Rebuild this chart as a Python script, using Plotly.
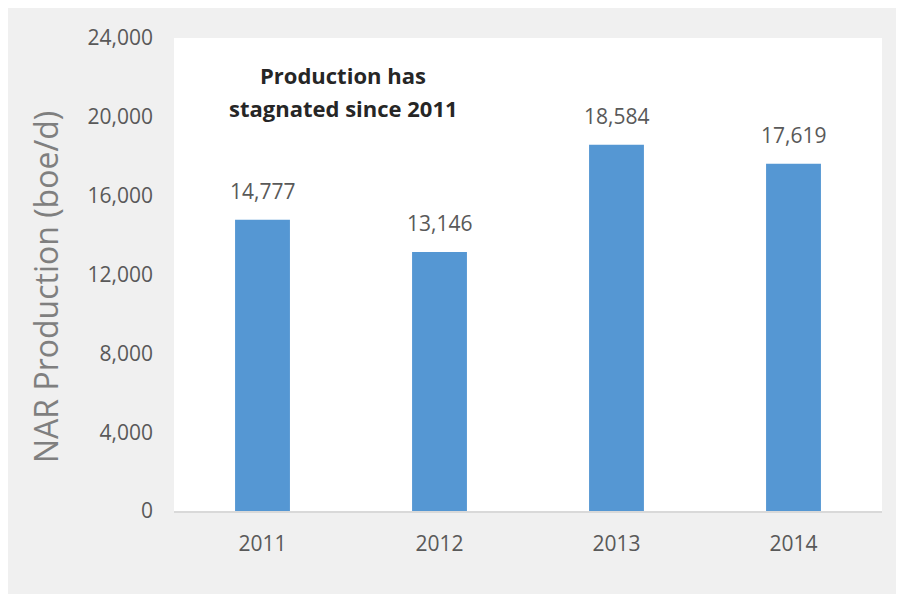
import plotly.graph_objects as go

years = ["2011", "2012", "2013", "2014"]
production = [14777, 13146, 18584, 17619]
y_ticks = [0, 4000, 8000, 12000, 16000, 20000, 24000]
note_lines = ["Production has", "stagnated since 2011"]
y_title = "NAR Production (boe/d)"

# page body adds an 8px offset; layout is expressed in screen pixels
OFF = 8
W, H = 904 - OFF, 594 - OFF
plot_l, plot_r, plot_t, plot_b = 174, 882, 38, 511
ml, mr, mt = plot_l - OFF, 904 - plot_r, plot_t - OFF
mb = H - (plot_b - OFF)
pw, ph = W - ml - mr, H - mt - mb

def px_x(sx):
    return (sx - plot_l) / pw

def px_y(sy):
    return (plot_b - sy) / ph

FONT = "Open Sans"
xpos = list(range(len(years)))

fig = go.Figure()
fig.add_trace(go.Bar(
    x=xpos, y=production, width=0.31,
    marker=dict(color="#5597d3", line=dict(width=0)),
    hoverinfo="skip",
))

annotations = []
for xi, v in zip(xpos, production):
    annotations.append(dict(
        x=xi, y=v, xref="x", yref="y", text=f"{v:,}", showarrow=False,
        xanchor="center", yanchor="bottom", yshift=13,
        font=dict(family=FONT, size=21, color="#595959"),
    ))
for line, sy in zip(note_lines, [75, 108]):
    annotations.append(dict(
        x=px_x(343), y=px_y(sy), xref="paper", yref="paper", text=line,
        showarrow=False, xanchor="center", yanchor="middle",
        font=dict(family=FONT, size=22, color="#262626", weight="bold"),
    ))
annotations.append(dict(
    x=px_x(45), y=px_y(287), xref="paper", yref="paper", text=y_title,
    showarrow=False, textangle=-90, xanchor="center", yanchor="middle",
    font=dict(family=FONT, size=32, color="#7f7f7f"),
))

fig.update_layout(
    width=W, height=H,
    margin=dict(l=ml, r=mr, t=mt, b=mb, pad=0),
    paper_bgcolor="#f0f0f0",
    plot_bgcolor="white",
    showlegend=False,
    annotations=annotations,
)
fig.update_xaxes(
    type="linear", range=[-0.5, len(years) - 0.5],
    tickvals=xpos, ticktext=years,
    showgrid=False, zeroline=False,
    showline=True, linecolor="#d9d9d9", linewidth=2,
    ticks="", ticklabelstandoff=13,
    tickfont=dict(family=FONT, size=21, color="#595959"),
)
fig.update_yaxes(
    range=[0, 24000], tickvals=y_ticks, tickformat=",",
    showgrid=False, zeroline=False, showline=False,
    ticks="", ticklabelstandoff=20,
    tickfont=dict(family=FONT, size=21, color="#595959"),
)
fig.write_html("out.html")
